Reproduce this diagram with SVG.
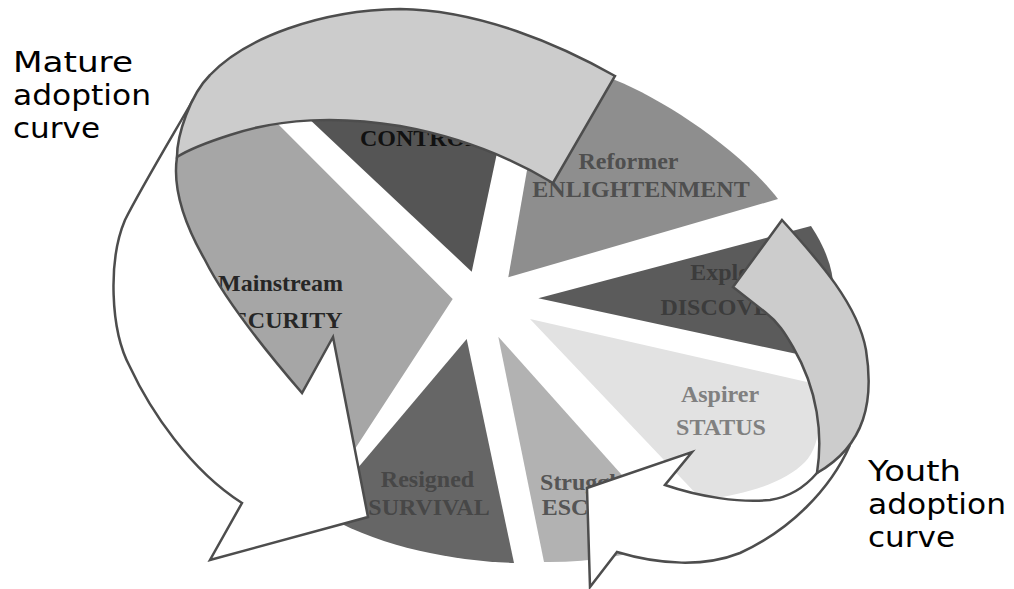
<svg xmlns="http://www.w3.org/2000/svg" width="1014" height="589" viewBox="0 0 1014 589">
  <style>
    .seg-label { font-family: "Liberation Serif", "Times New Roman", serif; font-weight: bold; font-size: 24px; text-anchor: middle; }
    .curve-label { font-family: "Comic Sans MS", "DejaVu Sans", sans-serif; font-size: 28px; fill: #000; }
    .ribbon { stroke: #4d4d4d; stroke-width: 2.5; stroke-linejoin: miter; }
    .ribbon-front { fill: #cccccc; }
    .ribbon-back { fill: #ffffff; }
  </style>
  <rect width="1014" height="589" fill="#ffffff"/>

  <!-- exploded pie wedges -->
  <g id="mainstream">
    <path d="M452.7,299 L240,86 L195,98 C185,115 177,135 177,157 C172,190 185,225 205,260 C225,300 265,350 302,393 L351,455 Z" fill="#a6a6a6"/>
    <text class="seg-label" x="280.5" y="291" fill="#262626">Mainstream</text>
    <text class="seg-label" x="280.5" y="328" fill="#262626">SECURITY</text>
  </g>
  <g id="control">
    <path d="M471.7,271.7 L290,101 L330,55 L480,55 L504,120 Z" fill="#555555"/>
    <text class="seg-label" x="420.7" y="146" fill="#111111">CONTROL</text>
  </g>
  <g id="reformer">
    <path d="M508.3,277.3 L544.5,70 C570,68 595,72 615,80 C665,100 740,150 778,199 Z" fill="#8e8e8e"/>
    <text class="seg-label" x="628.5" y="169" fill="#4f4f4f">Reformer</text>
    <text class="seg-label" x="641" y="197" fill="#4f4f4f">ENLIGHTENMENT</text>
  </g>
  <g id="explorer">
    <path d="M538.3,298.3 L811,226 Q850,285 822,335 L797,354 Z" fill="#5b5b5b"/>
    <text class="seg-label" x="736" y="280" fill="#3c3c3c">Explorer</text>
    <text class="seg-label" x="732" y="315" fill="#3c3c3c">DISCOVERY</text>
  </g>
  <g id="aspirer">
    <path d="M530,319 L807,382 C824,405 822,445 805,462 C785,482 750,494 702,500 Z" fill="#e2e2e2"/>
    <text class="seg-label" x="720" y="402" fill="#808080">Aspirer</text>
    <text class="seg-label" x="721" y="435" fill="#808080">STATUS</text>
  </g>
  <g id="struggler">
    <path d="M498.3,336.7 L544,562 Q610,563 680,540 Z" fill="#b2b2b2"/>
    <text class="seg-label" x="588.7" y="490" fill="#555555">Struggler</text>
    <text class="seg-label" x="589" y="515" fill="#555555">ESCAPE</text>
  </g>
  <g id="resigned">
    <path d="M466.7,339 L514,563 C455,561 385,548 330,518 L335,495 Z" fill="#666666"/>
    <text class="seg-label" x="427.5" y="487" fill="#474747">Resigned</text>
    <text class="seg-label" x="429" y="515" fill="#474747">SURVIVAL</text>
  </g>

  <!-- curved adoption arrows -->
  <g id="connectors">
    <!-- mature curve: white lower ribbon with arrowhead -->
    <path class="ribbon ribbon-back" d="M193,100 C170,140 140,190 125,220 C108,260 110,330 130,367 C150,410 190,470 242,503 L210,560 L368,517 L333,337 L302,393 C265,350 225,300 205,260 C185,225 172,190 177,157 C179,140 185,115 193,100 Z"/>
    <!-- mature curve: grey upper ribbon -->
    <path class="ribbon ribbon-front" d="M177,157 C177,135 190,95 210,75 C245,38 320,10 400,9 C480,10 560,45 615,76 L553,183 C510,157 460,137 400,126 C340,116 280,118 230,135 C205,143 188,150 177,157 Z"/>
    <!-- youth curve: white lower ribbon with arrowhead -->
    <path class="ribbon ribbon-back" d="M850,445 C830,490 790,530 740,553 C705,567 660,565 617,552 L590,587 L587,488 L692,452 L665,485 C700,497 740,503 770,500 C790,497 805,487 817,473 Z"/>
    <!-- youth curve: grey upper ribbon with arrowhead -->
    <path class="ribbon ribbon-front" d="M782,220 C820,262 858,305 866,350 C874,400 866,445 817,473 C823,435 818,390 793,347 C785,333 778,322 765,312 L733,287 Z"/>
  </g>

  <g id="mature-label">
    <text class="curve-label" x="13" y="72" textLength="120" lengthAdjust="spacingAndGlyphs">Mature</text>
    <text class="curve-label" x="13" y="105" textLength="138" lengthAdjust="spacingAndGlyphs">adoption</text>
    <text class="curve-label" x="13" y="138" textLength="87" lengthAdjust="spacingAndGlyphs">curve</text>
  </g>
  <g id="youth-label">
    <text class="curve-label" x="868" y="481" textLength="93" lengthAdjust="spacingAndGlyphs">Youth</text>
    <text class="curve-label" x="868" y="514" textLength="138" lengthAdjust="spacingAndGlyphs">adoption</text>
    <text class="curve-label" x="868" y="547" textLength="87" lengthAdjust="spacingAndGlyphs">curve</text>
  </g>
</svg>
